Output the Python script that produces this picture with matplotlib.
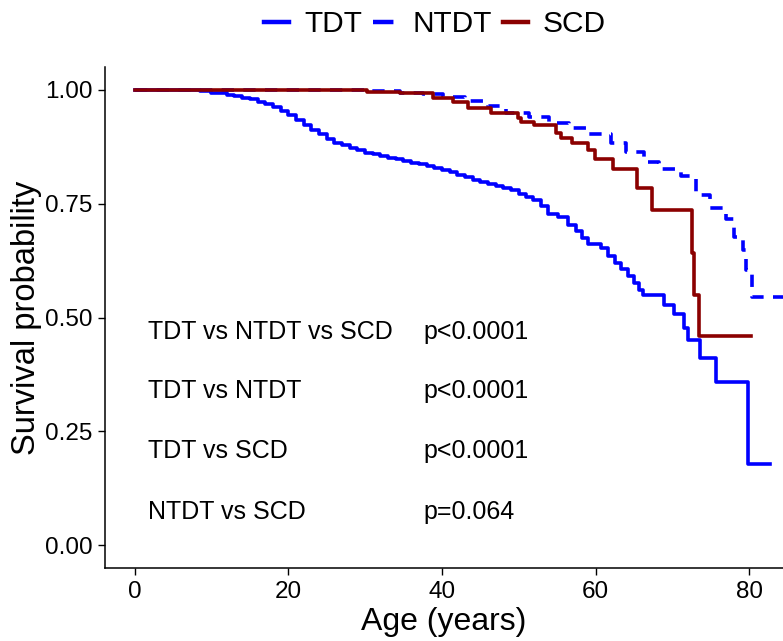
import matplotlib
matplotlib.use('Agg')
import matplotlib.pyplot as plt
from matplotlib.lines import Line2D

plt.rcParams['font.family'] = ['Liberation Sans', 'DejaVu Sans']

# Kaplan-Meier step points (age, survival)
tdt_age = [0, 6, 8.5, 10, 11, 12, 13, 14, 15, 16, 17, 18, 19, 20, 21, 22, 23, 24, 25,
           26, 27, 28, 29, 30, 31, 32, 33, 34, 35, 36, 37, 38, 39, 40, 41, 42, 43, 44,
           45, 46, 47, 48, 49, 50, 51, 51.8, 52.9, 53.8, 55.1, 56.4, 57.5, 58.3, 59.0,
           60.7, 61.6, 62.5, 63.3, 64.2, 65.0, 65.7, 66.2, 68.9, 70.2, 71.5, 72.0,
           73.6, 75.7, 79.9, 82.7]
tdt_surv = [1.0, 0.999, 0.997, 0.994, 0.992, 0.989, 0.986, 0.983, 0.979, 0.974, 0.968,
            0.962, 0.954, 0.945, 0.934, 0.922, 0.912, 0.902, 0.893, 0.884, 0.878, 0.872,
            0.867, 0.862, 0.859, 0.855, 0.851, 0.847, 0.844, 0.840, 0.836, 0.832, 0.828,
            0.824, 0.819, 0.813, 0.808, 0.802, 0.798, 0.793, 0.789, 0.785, 0.779, 0.772,
            0.765, 0.758, 0.745, 0.727, 0.720, 0.703, 0.690, 0.675, 0.662, 0.652, 0.635,
            0.620, 0.607, 0.592, 0.575, 0.560, 0.549, 0.527, 0.507, 0.478, 0.450, 0.410,
            0.358, 0.178, 0.178]

ntdt_age = [0, 30.3, 34.6, 37.5, 40.2, 43.0, 46.0, 48.3, 51.3, 53.9, 56.5, 59.1, 62.0,
            64.0, 66.3, 68.3, 71.1, 73.1, 74.9, 77.0, 78.0, 79.2, 79.6, 80.4, 84.5]
ntdt_surv = [1.0, 0.997, 0.993, 0.990, 0.985, 0.976, 0.965, 0.950, 0.941, 0.928, 0.915,
             0.903, 0.884, 0.864, 0.842, 0.825, 0.810, 0.770, 0.740, 0.716, 0.677, 0.648,
             0.605, 0.545, 0.545]

scd_age = [0, 30.3, 34.6, 38.9, 41.5, 43.4, 46.4, 49.9, 50.3, 52.0, 54.8, 55.5, 57.0,
           59.0, 59.9, 62.3, 65.4, 67.3, 72.6, 72.8, 73.5, 80.2]
scd_surv = [1.0, 0.995, 0.993, 0.983, 0.973, 0.960, 0.949, 0.938, 0.930, 0.922, 0.905,
            0.895, 0.884, 0.867, 0.848, 0.826, 0.785, 0.735, 0.642, 0.550, 0.459, 0.459]

comparisons = ['TDT vs NTDT vs SCD', 'TDT vs NTDT', 'TDT vs SCD', 'NTDT vs SCD']
p_values = ['p<0.0001', 'p<0.0001', 'p<0.0001', 'p=0.064']
label_y = [0.468, 0.338, 0.206, 0.072]

BLUE = '#0000FF'
DARK_RED = '#8B0000'
DASHES = (0, (3.4, 2.6))

fig = plt.figure(figsize=(7.83, 6.41), dpi=100)
ax = fig.add_axes([105 / 783, 1 - 568 / 641, 678 / 783, (568 - 67) / 641])

ax.step(tdt_age, tdt_surv, where='post', color=BLUE, lw=2.6)
ax.step(ntdt_age, ntdt_surv, where='post', color=BLUE, lw=2.6, linestyle=DASHES)
ax.step(scd_age, scd_surv, where='post', color=DARK_RED, lw=2.6)

for comp, p, y in zip(comparisons, p_values, label_y):
    ax.text(1.7, y, comp, fontsize=18, va='center', ha='left')
    ax.text(37.6, y, p, fontsize=18, va='center', ha='left')

ax.set_xlim(-3.85, 84.4)
ax.set_ylim(-0.05, 1.05)
ax.set_xticks([0, 20, 40, 60, 80])
ax.set_yticks([0, 0.25, 0.5, 0.75, 1.0])
ax.set_yticklabels(['0.00', '0.25', '0.50', '0.75', '1.00'])
ax.tick_params(labelsize=17.5, length=5, width=1, colors='black', pad=4)

for side in ['top', 'right']:
    ax.spines[side].set_visible(False)
for side in ['left', 'bottom']:
    ax.spines[side].set_linewidth(1.1)

ax.set_xlabel('Age (years)', fontsize=23, labelpad=3)
ax.set_ylabel('Survival probability', fontsize=23.5, labelpad=2)

# legend keys: ggplot shows one short dash for the dashed group
handles = [
    Line2D([], [], color=BLUE, lw=3.2),
    Line2D([], [], color=BLUE, lw=3.2, linestyle=(0, (4.6, 4))),
    Line2D([], [], color=DARK_RED, lw=3.2),
]
fig.legend(handles, ['TDT', 'NTDT', 'SCD'], loc='center',
           bbox_to_anchor=(435 / 783, 1 - 24 / 641), ncol=3,
           frameon=False, fontsize=21.5, handlelength=0.85, handletextpad=0.5,
           columnspacing=0.35)

fig.savefig('out.png', dpi=100)
